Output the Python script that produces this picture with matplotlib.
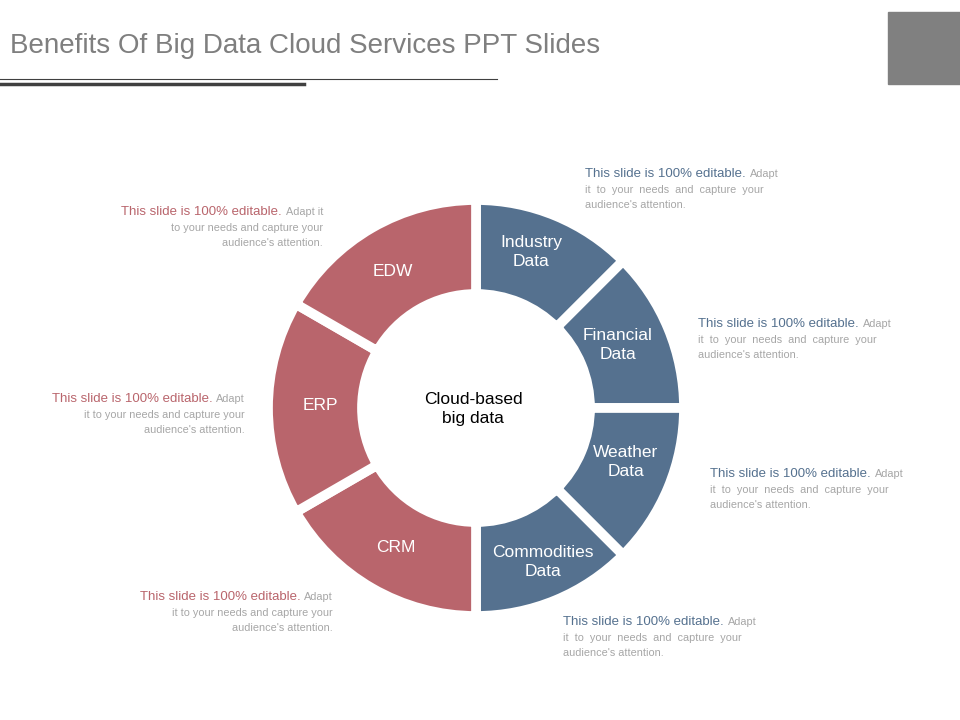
import matplotlib
matplotlib.use("Agg")
import matplotlib.pyplot as plt
from matplotlib.patches import Rectangle

plt.rcParams["font.family"] = "Liberation Sans"

segments = ["Industry\nData", "Financial\nData", "Weather\nData", "Commodities\nData", "CRM", "ERP", "EDW"]
sizes = [45, 45, 45, 45, 60, 60, 60]
RED, BLUE = "#B9656C", "#55718F"
colors = [BLUE] * 4 + [RED] * 3
label_pos = [(531, 252), (618, 345), (626, 462), (543, 562), (396, 547), (320, 406), (393, 272)]

title = "Benefits Of Big Data Cloud Services PPT Slides"
center_text = "Cloud-based\nbig data"

lead = "This slide is 100% editable."
# (anchor x, first-line y, align, color, gray rest of line 1, line2, line3)
notes = [
    (585, 174, "left", BLUE, "Adapt", "it  to  your  needs  and  capture  your", "audience's attention."),
    (698, 324, "left", BLUE, "Adapt", "it  to  your  needs  and  capture  your", "audience's attention."),
    (710, 474, "left", BLUE, "Adapt", "it  to  your  needs  and  capture  your", "audience's attention."),
    (563, 622, "left", BLUE, "Adapt", "it  to  your  needs  and  capture  your", "audience's attention."),
    (323, 212, "right", RED, "Adapt it", "to your needs and capture your", "audience's attention."),
    (245, 399, "right", RED, "Adapt", "it to your needs and capture your", "audience's attention."),
    (333, 597, "right", RED, "Adapt", "it to your needs and capture your", "audience's attention."),
]

W, H = 960, 720
fig = plt.figure(figsize=(9.6, 7.2), dpi=100)
ax = fig.add_axes([0, 0, 1, 1])
ax.set_xlim(0, W)
ax.set_ylim(0, H)
ax.axis("off")

def Y(y):
    return H - y

ax.pie(sizes, colors=colors, startangle=90, counterclock=False, center=(476, Y(408)),
       radius=208, frame=True,
       wedgeprops=dict(width=94, edgecolor="white", linewidth=7))
ax.set_xlim(0, W)
ax.set_ylim(0, H)
ax.set_aspect("equal")
ax.axis("off")

for lab, (x, y) in zip(segments, label_pos):
    ax.text(x, Y(y), lab, color="white", fontsize=12.5, ha="center", va="center", linespacing=1.35)
ax.text(473, Y(409), center_text, color="black", fontsize=12.5, ha="center", va="center", linespacing=1.35)

ax.text(10, Y(46), title, color="#7F7F7F", fontsize=20, ha="left", va="center")
ax.plot([0, 497], [Y(79), Y(79)], color="#404040", lw=0.8)
ax.plot([0, 304], [Y(84), Y(84)], color="#404040", lw=2.5)
ax.add_patch(Rectangle((888, Y(84)), 72, 72, color="#808080"))

fig.canvas.draw()
r = fig.canvas.get_renderer()
GRAY = "#A6A6A6"
for x, y, al, col, rest, l2, l3 in notes:
    if al == "left":
        t = ax.text(x, Y(y), lead, color=col, fontsize=9.5, ha="left", va="center")
        bb = t.get_window_extent(r)
        ax.text(bb.x1 + 4, Y(y), rest, color=GRAY, fontsize=7.8, ha="left", va="center")
    else:
        t = ax.text(x, Y(y), rest, color=GRAY, fontsize=7.8, ha="right", va="center")
        bb = t.get_window_extent(r)
        ax.text(bb.x0 - 4, Y(y), lead, color=col, fontsize=9.5, ha="right", va="center")
    ax.text(x, Y(y + 16), l2, color=GRAY, fontsize=7.8, ha=al, va="center")
    ax.text(x, Y(y + 31), l3, color=GRAY, fontsize=7.8, ha=al, va="center")

fig.savefig("out.png", dpi=100)
